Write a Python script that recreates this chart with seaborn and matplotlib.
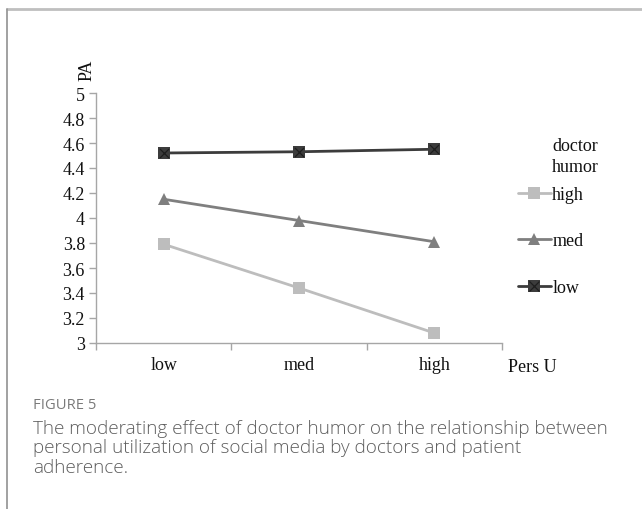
import matplotlib
matplotlib.use("Agg")
import matplotlib.pyplot as plt
from matplotlib.lines import Line2D
from matplotlib.legend_handler import HandlerTuple
import pandas as pd
import seaborn as sns

# Simple slopes: patient adherence (PA) by personal utilization (Pers U),
# one line per level of doctor humor
pers_u_levels = ["low", "med", "high"]
humor_levels = ["high", "med", "low"]
pa_humor_high = [3.79, 3.44, 3.08]
pa_humor_med = [4.15, 3.98, 3.81]
pa_humor_low = [4.52, 4.53, 4.55]
y_ticks = [3, 3.2, 3.4, 3.6, 3.8, 4, 4.2, 4.4, 4.6, 4.8, 5]
y_tick_labels = ["3", "3.2", "3.4", "3.6", "3.8", "4", "4.2", "4.4", "4.6", "4.8", "5"]

series = {"high": pa_humor_high, "med": pa_humor_med, "low": pa_humor_low}
df = pd.DataFrame(
    [(u, v, h) for h in humor_levels for u, v in zip(pers_u_levels, series[h])],
    columns=["Pers U", "PA", "humor"],
)

sns.set_theme(style="white")
serif = ["Liberation Serif", "DejaVu Serif"]
plt.rcParams["font.family"] = serif

colors = {"high": "#bdbdbd", "med": "#7f7f7f", "low": "#3c3c3c"}
markers = {"high": "s", "med": "^", "low": "s"}
W, H = 642, 510
fig = plt.figure(figsize=(W / 100, H / 100), dpi=100)
ax = fig.add_axes([96 / W, 1 - 344 / H, (502 - 96) / W, 250 / H])

sns.lineplot(
    data=df, x="Pers U", y="PA", hue="humor", style="humor",
    hue_order=humor_levels, style_order=humor_levels,
    palette=colors, markers=markers, dashes=False,
    linewidth=2.0, markersize=8.5, markeredgewidth=0,
    sort=False, legend=False, ax=ax,
)
# cross inside the squares of the low-humor series
low_df = df[df["humor"] == "low"]
ax.scatter(range(len(low_df)), low_df["PA"], marker="x", s=42,
           color="#1e1e1e", linewidths=0.9, zorder=5)

ax.set_xlim(-0.5, len(pers_u_levels) - 0.5)
ax.set_ylim(3, 5)
ax.set_yticks(y_ticks)
ax.set_yticklabels(y_tick_labels)
ax.set_xticks(range(len(pers_u_levels)))
ax.set_xticklabels(pers_u_levels)
ax.set_xticks([i - 0.5 for i in range(len(pers_u_levels) + 1)], minor=True)
ax.set_xlabel("")
ax.set_ylabel("")

axis_gray = "#a6a6a6"
for side in ["top", "right"]:
    ax.spines[side].set_visible(False)
for side in ["left", "bottom"]:
    ax.spines[side].set_color(axis_gray)
    ax.spines[side].set_linewidth(1.0)
ax.tick_params(axis="y", which="major", direction="out", length=5, width=1,
               color=axis_gray, labelsize=13, labelcolor="#111111", pad=3, left=True)
ax.tick_params(axis="x", which="major", length=0, labelsize=13,
               labelcolor="#111111", pad=9)
ax.tick_params(axis="x", which="minor", direction="out", length=5, width=1,
               color=axis_gray, bottom=True)

fig.text(87 / W, 1 - 70 / H, "PA", rotation=90, ha="center", va="center",
         fontsize=13, color="#111111", family=serif)
fig.text(508 / W, 1 - 367 / H, "Pers U", ha="left", va="center",
         fontsize=13, color="#111111", family=serif)

# legend
fig.text(552 / W, 1 - 147 / H, "doctor", ha="left", va="center",
         fontsize=13, color="#111111", family=serif)
fig.text(552 / W, 1 - 168 / H, "humor", ha="left", va="center",
         fontsize=13, color="#111111", family=serif)
handles = []
for h in humor_levels:
    base = Line2D([], [], color=colors[h], marker=markers[h], markersize=8.5,
                  markeredgewidth=0, linewidth=2.0)
    if h == "low":
        cross = Line2D([], [], color="#1e1e1e", marker="x", markersize=6.5,
                       markeredgewidth=0.9, linestyle="none")
        handles.append((base, cross))
    else:
        handles.append(base)
leg = fig.legend(handles, humor_levels, loc="upper left",
                 bbox_to_anchor=(518 / W, 1 - 187 / H), frameon=False,
                 fontsize=13, labelspacing=1.63, handlelength=1.8,
                 handletextpad=0.1, borderpad=0, borderaxespad=0,
                 handler_map={tuple: HandlerTuple(ndivide=1)})
for t in leg.get_texts():
    t.set_color("#111111")

# caption
sans = ["Open Sans", "DejaVu Sans"]
fig.text(33 / W, 1 - 406 / H, "FIGURE 5", ha="left", va="center",
         fontsize=10.6, color="#7a7a7a", family=sans)
caption = ["The moderating effect of doctor humor on the relationship between",
           "personal utilization of social media by doctors and patient",
           "adherence."]
for i, line in enumerate(caption):
    fig.text(33 / W, 1 - (429 + 19.5 * i) / H, line, ha="left", va="center",
             fontsize=13.6, color="#5e5e5e", family=sans, fontweight="light")

# panel frame
frame_kw = dict(transform=fig.transFigure)
fig.add_artist(Line2D([7 / W, 1], [1 - 10 / H, 1 - 10 / H], color="#bfbfbf",
                      linewidth=2.0, **frame_kw))
fig.add_artist(Line2D([7 / W, 7 / W], [1 - 10 / H, 0], color="#9a9a9a",
                      linewidth=1.3, **frame_kw))

fig.savefig("out.png", dpi=100, facecolor="white")
